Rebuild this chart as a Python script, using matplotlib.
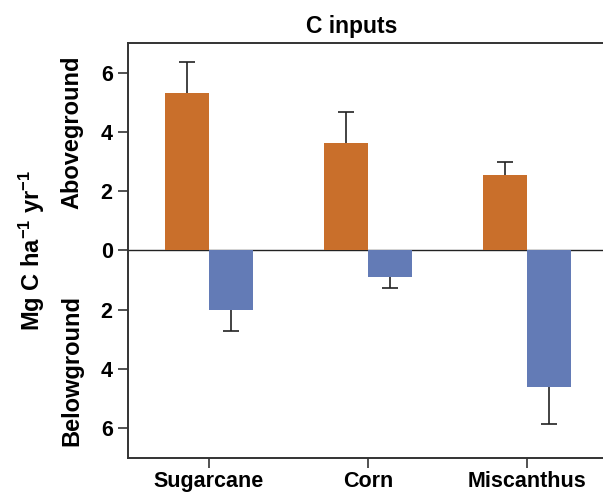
import matplotlib.pyplot as plt
import numpy as np

plt.rcParams['font.family'] = ['Liberation Sans', 'DejaVu Sans']
plt.rcParams['font.weight'] = 'bold'
plt.rcParams['mathtext.fontset'] = 'custom'
plt.rcParams['mathtext.rm'] = 'Liberation Sans:bold'
plt.rcParams['mathtext.bf'] = 'Liberation Sans:bold'
plt.rcParams['mathtext.default'] = 'bf'

crops = ['Sugarcane', 'Corn', 'Miscanthus']
above = [5.31, 3.62, 2.54]
above_err = [1.05, 1.06, 0.44]
below = [2.01, 0.90, 4.61]
below_err = [0.72, 0.38, 1.25]
ytick_vals = [6, 4, 2, 0, -2, -4, -6]
ytick_text = ['6', '4', '2', '0', '2', '4', '6']

orange = '#C96F2B'
blue = '#637BB6'
ink = '#222222'

fig = plt.figure(figsize=(6.03, 4.94), dpi=100)
# right edge runs just past the image, like the reference
ax = fig.add_axes([128 / 603, 36 / 494, 480 / 603, 415 / 494])

x = np.arange(len(crops))
w = 0.277
cap = 0.05
up = np.array(above)
down = -np.array(below)
ax.bar(x - w / 2, up, w, color=orange, zorder=2)
ax.bar(x + w / 2, down, w, color=blue, zorder=2)

# one-sided error bars, cap only at the outer end
ax.vlines(x - w / 2, up, up + np.array(above_err), color=ink, lw=1.2, zorder=3)
ax.hlines(up + np.array(above_err), x - w / 2 - cap, x - w / 2 + cap, color=ink, lw=1.2, zorder=3)
ax.vlines(x + w / 2, down, down - np.array(below_err), color=ink, lw=1.2, zorder=3)
ax.hlines(down - np.array(below_err), x + w / 2 - cap, x + w / 2 + cap, color=ink, lw=1.2, zorder=3)
ax.axhline(0, color=ink, lw=1.0, zorder=1)

ax.set_xlim(-0.51, 2.51)
ax.set_ylim(-7, 7)
ax.set_xticks(x)
ax.set_xticklabels(crops, fontsize=15.5, fontweight='bold')
ax.set_yticks(ytick_vals)
ax.set_yticklabels(ytick_text, fontsize=15.5, fontweight='bold')
ax.tick_params(direction='out', length=7, width=1.2, color='#333333')
ax.tick_params(axis='x', pad=2.5)
ax.tick_params(axis='y', pad=4)
for s in ['left', 'top', 'bottom', 'right']:
    ax.spines[s].set_linewidth(1.4)
    ax.spines[s].set_color('#333333')

ax.text(0.465, 1.012, 'C inputs', transform=ax.transAxes, ha='center', va='bottom',
        fontsize=16.5, fontweight='bold')
fig.text(32 / 603, 1 - 250 / 494, r'Mg C ha$^{-1}$ yr$^{-1}$',
         rotation=90, ha='center', va='center', fontsize=17, fontweight='bold')
fig.text(72 / 603, 1 - 132 / 494, 'Aboveground', rotation=90,
         ha='center', va='center', fontsize=17, fontweight='bold')
fig.text(72 / 603, 1 - 370 / 494, 'Belowground', rotation=90,
         ha='center', va='center', fontsize=17, fontweight='bold')

fig.savefig('out.png', dpi=100)
